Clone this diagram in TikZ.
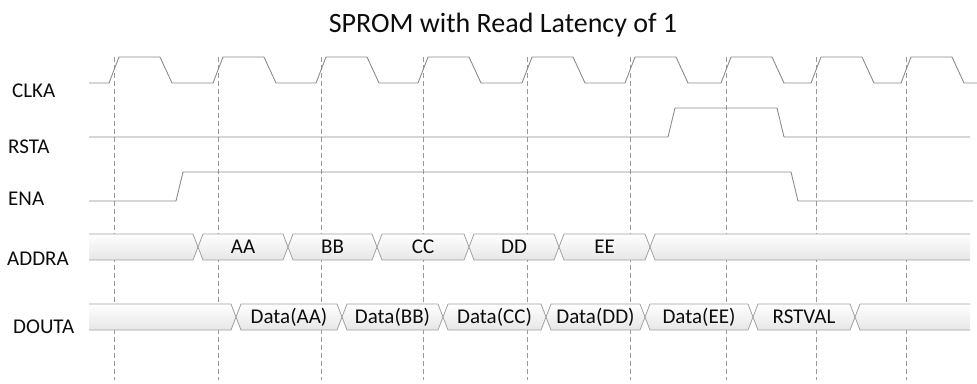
\documentclass[tikz,border=0pt]{standalone}
\usepackage{fontspec}
\setmainfont{Carlito}
\usepackage{tikz}
\usepackage{xcolor}
\definecolor{SignalGray}{HTML}{8C8C8C}
\definecolor{MarkerGray}{HTML}{9A9A9A}
\definecolor{BusBorder}{HTML}{A0A0A0}
\definecolor{BusShade}{HTML}{E6E6E6}
\definecolor{TextBlack}{HTML}{0D0D0D}
\tikzstyle{SignalLine} =[draw=SignalGray,line width=0.9pt,line join=round]
\tikzstyle{CycleMarker} =[draw=MarkerGray,line width=0.7pt,dash pattern=on 5pt off 3pt]
\tikzstyle{SignalName} =[anchor=base west,inner sep=0pt,text=TextBlack,font=\fontsize{21}{25}\selectfont]
\tikzstyle{BusFill} =[draw=BusBorder,line width=0.8pt,line join=round,top color=white,bottom color=BusShade]
\tikzstyle{BusShading} =[top color=white,bottom color=BusShade]
\tikzstyle{BusEdge} =[draw=BusBorder,line width=0.8pt,line join=round]
\tikzstyle{BusValue} =[anchor=base,inner sep=0pt,text=TextBlack,font=\fontsize{21}{25}\selectfont]
\newcommand{\BusCell}[5]{%
\path[BusFill] (#2,#4) -- ({#2+5},{#4-13}) -- ({#3-5},{#4-13}) -- (#3,#4) -- ({#3-5},{#4+13}) -- ({#2+5},{#4+13}) -- cycle;
\node[BusValue](#1) at ({(#2+#3)/2},{#4+6}){#5};}

\begin{document}
\begin{tikzpicture}[x=1pt,y=-1pt]
\useasboundingbox (0,0) rectangle (977,383);
\node[anchor=base,inner sep=0pt,text=TextBlack,font=\fontsize{28}{34}\selectfont](TitleNode) at (503,32){SPROM with Read Latency of 1};
\foreach \d in {114,218,321,423,527,630,726,816,906}
  \draw[CycleMarker] (\d,57) -- (\d,380);
\node[SignalName](CLKA) at (12,97){CLKA};
\node[SignalName](RSTA) at (8,153){RSTA};
\node[SignalName](ENA) at (8,205){ENA};
\node[SignalName](ADDRA) at (7,265){ADDRA};
\node[SignalName](DOUTA) at (13,333){DOUTA};
\draw[SignalLine] (89,83) foreach \d in {114,218,321,423,527,630,726,816,906} { -- ({\d-5},83) -- ({\d+5},57) -- ({\d+46},57) -- ({\d+58},83) } -- (977,83);
\draw[SignalLine] (89,137) -- (668,137) -- (675,108) -- (777,108) -- (784,137) -- (970,137);
\draw[SignalLine] (89,201) -- (176,201) -- (183,172) -- (791,172) -- (798,201) -- (973,201);
\path[BusShading] (89,234) -- (193,234) -- (198,247) -- (193,260) -- (89,260) -- cycle;
\draw[BusEdge] (89,234) -- (193,234) -- (198,247) -- (193,260) -- (89,260);
\BusCell{AddrAA}{198}{288}{247}{AA}
\BusCell{AddrBB}{288}{377}{247}{BB}
\BusCell{AddrCC}{377}{469}{247}{CC}
\BusCell{AddrDD}{469}{559}{247}{DD}
\BusCell{AddrEE}{559}{650}{247}{EE}
\path[BusShading] (650,247) -- (655,234) -- (970,234) -- (970,260) -- (655,260) -- cycle;
\draw[BusEdge] (970,234) -- (655,234) -- (650,247) -- (655,260) -- (970,260);
\path[BusShading] (89,304) -- (231,304) -- (236,317) -- (231,330) -- (89,330) -- cycle;
\draw[BusEdge] (89,304) -- (231,304) -- (236,317) -- (231,330) -- (89,330);
\BusCell{DataAA}{236}{342}{317}{Data(AA)}
\BusCell{DataBB}{342}{443}{317}{Data(BB)}
\BusCell{DataCC}{443}{546}{317}{Data(CC)}
\BusCell{DataDD}{546}{645}{317}{Data(DD)}
\BusCell{DataEE}{645}{753}{317}{Data(EE)}
\BusCell{RstVal}{753}{855}{317}{RSTVAL}
\path[BusShading] (855,317) -- (860,304) -- (970,304) -- (970,330) -- (860,330) -- cycle;
\draw[BusEdge] (970,304) -- (860,304) -- (855,317) -- (860,330) -- (970,330);
\end{tikzpicture}
\end{document}
